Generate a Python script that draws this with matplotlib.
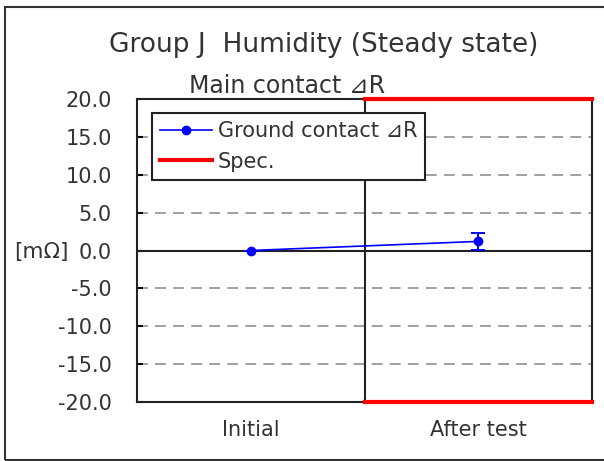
import numpy as np
import matplotlib.pyplot as plt

plt.rcParams['font.family'] = ['DejaVu Sans', 'Noto Sans CJK JP']

categories = ['Initial', 'After test']
mean_dr = [0.0, 1.2]
err_dr = [0.0, 1.1]
spec_x = [0.5, 1.5]
spec_upper = [20.0, 20.0]
spec_lower = [-20.0, -20.0]
yticks = [-20, -15, -10, -5, 0, 5, 10, 15, 20]

fig = plt.figure(figsize=(6.04, 4.61), dpi=100)
ax = fig.add_axes([137/604, 1-402/461, (592-137)/604, (402-99)/461])

x = np.arange(len(categories))
for y in [-15, -10, -5, 5, 10, 15]:
    ax.axhline(y, color='#999999', lw=1.3, ls=(0, (6, 4)), zorder=1)
ax.axhline(0, color='#222222', lw=1.5, zorder=2)
ax.axvline(0.5, color='#222222', lw=1.5, zorder=2)

ax.errorbar(x, mean_dr, yerr=err_dr, fmt='none', ecolor='#0000ff', capsize=5, lw=1.4,
            capthick=1.4, zorder=4)
ax.plot(x, mean_dr, color='#0000ff', lw=1.2, marker='o', ms=6, label='Ground contact ⊿R', zorder=5)
ax.plot(spec_x, spec_upper, color='#ff0000', lw=3, label='Spec.', clip_on=False, zorder=6)
ax.plot(spec_x, spec_lower, color='#ff0000', lw=3, clip_on=False, zorder=6)

ax.set_xlim(-0.5, 1.5)
ax.set_ylim(-20, 20)
ax.set_yticks(yticks)
ax.set_yticklabels(['%.1f' % v for v in yticks], fontsize=15, color='#333333')
ax.set_xticks(x)
ax.set_xticklabels(categories, fontsize=15, color='#333333')
ax.tick_params(axis='y', direction='in', length=4, width=1.5, pad=18)
ax.tick_params(axis='x', length=0, pad=13)
for s in ax.spines.values():
    s.set_color('#222222')
    s.set_linewidth(1.5)

leg = ax.legend(loc='upper left', bbox_to_anchor=(15/455, 1-14/303), fontsize=15,
                frameon=True, fancybox=False, edgecolor='#222222', framealpha=1,
                borderpad=0.4, handlelength=2.5, handletextpad=0.25, labelspacing=0.5,
                borderaxespad=0)
leg.get_frame().set_linewidth(1.5)
for t in leg.get_texts():
    t.set_color('#333333')

fig.text(324/604, 1-45/461, 'Group J  Humidity (Steady state)', fontsize=19,
         ha='center', va='center', color='#333333')
fig.text(287/604, 1-86/461, 'Main contact ⊿R', fontsize=17,
         ha='center', va='center', color='#333333')
fig.text(41/604, 1-252/461, '[mΩ]', fontsize=15.5, ha='center', va='center', color='#333333')

border = plt.Rectangle((5/604, 1/461), 1.0, 1-8/461, transform=fig.transFigure,
                       fill=False, edgecolor='#333333', lw=1.5)
fig.patches.append(border)

fig.savefig('out.png', dpi=100)
